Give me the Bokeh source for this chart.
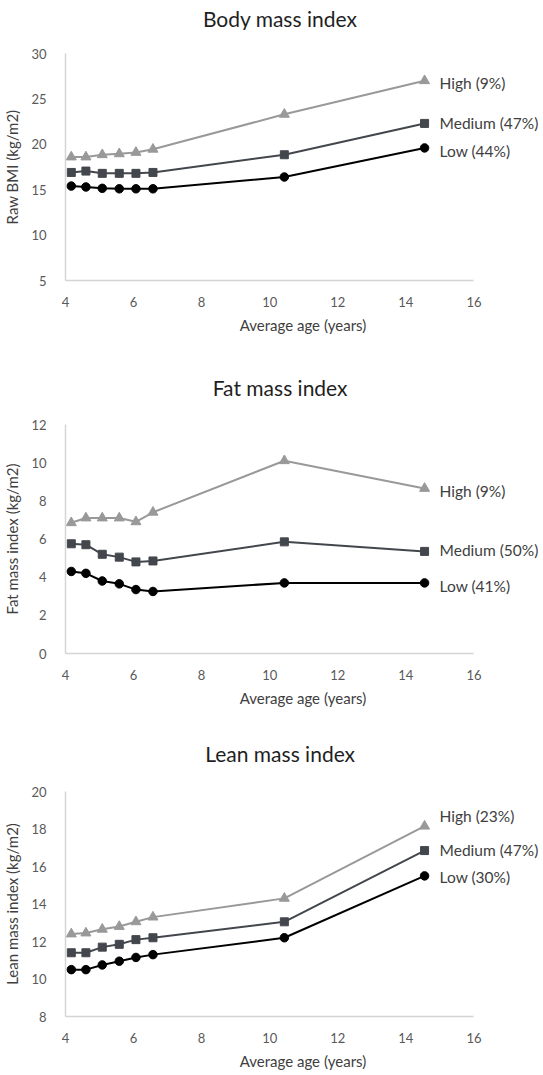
from bokeh.plotting import figure
from bokeh.layouts import column
from bokeh.models import Range1d, FixedTicker
from bokeh.core.properties import value
from bokeh.embed import file_html
from bokeh.resources import INLINE

# ---- data ----
age = [4.17, 4.6, 5.08, 5.58, 6.07, 6.57, 10.43, 14.55]

bmi_high = [18.6, 18.6, 18.85, 18.95, 19.1, 19.45, 23.3, 27.0]
bmi_medium = [16.9, 17.05, 16.8, 16.8, 16.8, 16.9, 18.85, 22.3]
bmi_low = [15.4, 15.3, 15.15, 15.1, 15.1, 15.1, 16.4, 19.6]
bmi_labels = ["High (9%)", "Medium (47%)", "Low (44%)"]

fmi_high = [6.85, 7.1, 7.1, 7.1, 6.9, 7.4, 10.1, 8.65]
fmi_medium = [5.75, 5.7, 5.2, 5.05, 4.8, 4.85, 5.85, 5.35]
fmi_low = [4.3, 4.2, 3.8, 3.65, 3.35, 3.25, 3.7, 3.7]
fmi_labels = ["High (9%)", "Medium (50%)", "Low (41%)"]

lmi_high = [12.4, 12.45, 12.65, 12.8, 13.05, 13.3, 14.3, 18.15]
lmi_medium = [11.4, 11.4, 11.7, 11.85, 12.1, 12.2, 13.05, 16.85]
lmi_low = [10.5, 10.5, 10.75, 10.95, 11.15, 11.3, 12.2, 15.5]
lmi_labels = ["High (23%)", "Medium (47%)", "Low (30%)"]

titles = ["Body mass index", "Fat mass index", "Lean mass index"]
x_ticks = [4, 6, 8, 10, 12, 14, 16]
x_axis_span = (4, 16)

FONT = "Lato"
C_HIGH = "#999999"
C_MED = "#43474d"
C_LOW = "#000000"

W = 540
LEFT = 62
PX_PER_YEAR = 34.25
TITLE_CX = 244


def title_fig(text, height, center_from_top):
    t = figure(width=W, height=height, output_backend="svg",
               toolbar_location=None, x_range=Range1d(0, W),
               y_range=Range1d(0, height), x_axis_type=None,
               y_axis_type=None, min_border=0)
    t.outline_line_color = None
    t.grid.visible = False
    t.text(x=[TITLE_CX], y=[height - center_from_top], text=[text],
           text_font=value(FONT), text_font_size="21px",
           text_color="#1f1f1f", text_align="center",
           text_baseline="middle")
    return t


def panel(ylabel, high, med, low, labels, yr, yticks, height,
          top, bottom, label_dy):
    x_max = x_axis_span[0] + (W - LEFT) / PX_PER_YEAR
    p = figure(width=W, height=height, output_backend="svg",
               toolbar_location=None,
               x_range=Range1d(x_axis_span[0], x_max),
               y_range=Range1d(*yr), min_border_left=LEFT,
               min_border_right=0, min_border_top=top,
               min_border_bottom=bottom)
    p.outline_line_color = None
    p.grid.visible = False
    for ax in (p.xaxis, p.yaxis):
        ax.axis_line_color = "#d4d4d4"
        ax.axis_line_width = 1.5
        ax.major_tick_line_color = None
        ax.minor_tick_line_color = None
        ax.major_label_text_font = FONT
        ax.major_label_text_font_size = "13px"
        ax.major_label_text_color = "#595959"
        ax.axis_label_text_font = FONT
        ax.axis_label_text_font_size = "15px"
        ax.axis_label_text_font_style = "normal"
        ax.axis_label_text_color = "#404040"
    p.xaxis.bounds = x_axis_span
    p.xaxis.ticker = FixedTicker(ticks=x_ticks)
    p.yaxis.ticker = FixedTicker(ticks=yticks)
    p.xaxis.axis_label = "Average age (years)"
    p.yaxis.axis_label = ylabel
    p.xaxis.major_label_standoff = 10
    p.xaxis.axis_label_standoff = 6
    p.yaxis.major_label_standoff = 13
    p.yaxis.axis_label_standoff = 7

    p.line(age, high, line_color=C_HIGH, line_width=2)
    p.scatter(age, high, marker="triangle", size=10, fill_color=C_HIGH,
              line_color=C_HIGH)
    p.line(age, med, line_color=C_MED, line_width=2)
    p.scatter(age, med, marker="square", size=8, fill_color=C_MED,
              line_color=C_MED)
    p.line(age, low, line_color=C_LOW, line_width=2)
    p.scatter(age, low, marker="circle", size=8.5, fill_color=C_LOW,
              line_color=C_LOW)

    p.text(x=[age[-1]] * 3, y=[high[-1], med[-1], low[-1]], text=labels,
           x_offset=15, y_offset=label_dy, text_font=value(FONT),
           text_font_size="15.5px", text_color="#404040",
           text_baseline="middle", text_align="left")
    return p


t1 = title_fig(titles[0], 30, 18)
p1 = panel("Raw BMI (kg/m2)", bmi_high, bmi_medium, bmi_low, bmi_labels,
           (5, 30), [5, 10, 15, 20, 25, 30], 330, 23, 80, [2, 0, 3])
t2 = title_fig(titles[1], 40, 27)
p2 = panel("Fat mass index (kg/m2)", fmi_high, fmi_medium, fmi_low,
           fmi_labels, (0, 12), [0, 2, 4, 6, 8, 10, 12], 320, 24, 67,
           [3, -1, 3])
t3 = title_fig(titles[2], 50, 33)
p3 = panel("Lean mass index (kg/m2)", lmi_high, lmi_medium, lmi_low,
           lmi_labels, (8, 20), [8, 10, 12, 14, 16, 18, 20], 302, 21, 52,
           [-10, -1, 1])

layout = column(t1, p1, t2, p2, t3, p3, spacing=0)
open("out.html", "w").write(file_html(layout, INLINE))
